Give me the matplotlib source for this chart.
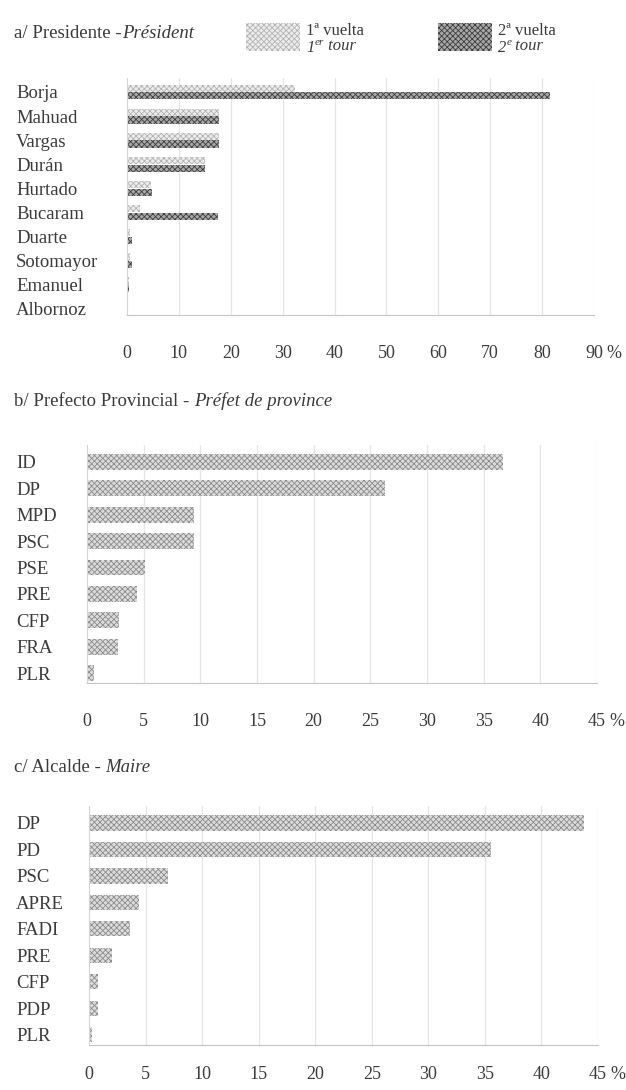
import matplotlib
matplotlib.use('Agg')
from matplotlib import pyplot as plt
from matplotlib.patches import Rectangle

# a/ presidente, 1a y 2a vuelta (%)
candidatos = ['Borja', 'Mahuad', 'Vargas', 'Durán', 'Hurtado', 'Bucaram',
              'Duarte', 'Sotomayor', 'Emanuel', 'Albornoz']
vuelta1 = [32.3, 17.7, 17.7, 15.0, 4.7, 2.6, 0.5, 0.5, 0.3, 0.0]
vuelta2 = [81.6, 17.7, 17.7, 15.0, 4.9, 17.5, 1.0, 1.0, 0.3, 0.0]
ticks_a = [0, 10, 20, 30, 40, 50, 60, 70, 80, 90]

# b/ prefecto provincial (%)
partidos_b = ['ID', 'DP', 'MPD', 'PSC', 'PSE', 'PRE', 'CFP', 'FRA', 'PLR']
votos_b = [36.7, 26.3, 9.4, 9.4, 5.1, 4.4, 2.8, 2.7, 0.6]

# c/ alcalde (%)
partidos_c = ['DP', 'PD', 'PSC', 'APRE', 'FADI', 'PRE', 'CFP', 'PDP', 'PLR']
votos_c = [43.8, 35.5, 7.0, 4.4, 3.6, 2.0, 0.8, 0.8, 0.3]
ticks_bc = [0, 5, 10, 15, 20, 25, 30, 35, 40, 45]

plt.rcParams['font.family'] = ['Liberation Serif', 'DejaVu Serif']
plt.rcParams['font.size'] = 13.5
plt.rcParams['hatch.linewidth'] = 0.6
TXT = '#3a3a3a'
# (face, hatch colour) -> dotted / checkered look of the scan
LIGHT = ('#ececec', '#b4b4b4')
DARK = ('#a8a8a8', '#3c3c3c')
MID = ('#dcdcdc', '#8c8c8c')

W, H = 626, 1090
fig = plt.figure(figsize=(W / 100, H / 100), dpi=100)


def px_axes(left, right, top, bottom):
    return fig.add_axes([left / W, 1 - bottom / H, (right - left) / W, (bottom - top) / H])


def bars(ax, y, vals, h, col):
    ax.barh(y, vals, height=h, color=col[0], edgecolor=col[1], hatch='xxxxxx',
            linewidth=0, zorder=2)


def style(ax, ticks, names, left_px, ylim, tick_pad_px):
    ax.set_xlim(ticks[0], ticks[-1])
    ax.set_ylim(*ylim)
    ax.set_yticks(range(len(names)))
    ax.set_yticklabels(names, color=TXT)
    for lab in ax.get_yticklabels():
        lab.set_horizontalalignment('left')
    ax.tick_params(axis='y', length=0, pad=(left_px - 16) * 0.72)
    ax.set_xticks(ticks)
    ax.set_xticklabels([str(t) for t in ticks], color=TXT, fontsize=13)
    ax.tick_params(axis='x', length=0, pad=tick_pad_px * 0.72)
    # "%" after the last tick
    ax.annotate('%', xy=(ticks[-1], 0), xycoords=('data', 'axes fraction'),
                xytext=(9, -tick_pad_px * 0.72), textcoords='offset points',
                ha='left', va='top', color=TXT, fontsize=13)
    for t in ticks[1:]:
        ax.axvline(t, color='#e6e6e6', lw=0.9, zorder=0)
    for s in ['top', 'right']:
        ax.spines[s].set_visible(False)
    ax.spines['left'].set_color('#d4d4d4')
    ax.spines['bottom'].set_color('#c4c4c4')
    ax.spines['left'].set_linewidth(0.8)
    ax.spines['bottom'].set_linewidth(0.8)
    ax.patch.set_alpha(0)


# panel a
ax_a = px_axes(127, 594, 78, 315)
pos = list(range(len(candidatos)))
bars(ax_a, [p - 0.16 for p in pos], vuelta1, 0.3, LIGHT)
bars(ax_a, [p + 0.16 for p in pos], vuelta2, 0.3, DARK)
style(ax_a, ticks_a, candidatos, 127, (9.25, -0.58), 30)

# panel b
ax_b = px_axes(87, 597, 445, 683)
bars(ax_b, range(len(partidos_b)), votos_b, 0.6, MID)
style(ax_b, ticks_bc, partidos_b, 87, (8.37, -0.64), 30)

# panel c
ax_c = px_axes(89, 598, 806, 1045)
bars(ax_c, range(len(partidos_c)), votos_c, 0.57, MID)
style(ax_c, ticks_bc, partidos_c, 89, (8.38, -0.64), 21)

# titles and legend on an overlay in pixel units
ov = fig.add_axes([0, 0, 1, 1])
ov.set_xlim(0, W)
ov.set_ylim(H, 0)
ov.axis('off')
ov.patch.set_alpha(0)


def title(y, plain, ital):
    t = ov.text(14, y, plain, va='center', ha='left', color=TXT)
    ov.annotate(ital, xy=(1, 0), xycoords=t, va='bottom', ha='left',
                style='italic', color=TXT)


title(34, 'a/ Presidente -', 'Président')
title(402, 'b/ Prefecto Provincial - ', 'Préfet de province')
title(768, 'c/ Alcalde - ', 'Maire')


def legend_item(x, col, num, sup):
    ov.add_patch(Rectangle((x, 23), 54, 28, facecolor=col[0], edgecolor=col[1],
                           hatch='xxxxxx', linewidth=0))
    ov.text(x + 60, 31, num + 'ª vuelta', va='center', ha='left',
            fontsize=12, color=TXT)
    t = ov.text(x + 60, 48, num, va='center', ha='left', fontsize=12,
                style='italic', color=TXT)
    s = ov.annotate(sup, xy=(1, 0.55), xycoords=t, va='bottom', ha='left',
                    fontsize=8, style='italic', color=TXT)
    ov.annotate(' tour', xy=(1, 0), xycoords=s, xytext=(0, -4.8),
                textcoords='offset points', va='bottom', ha='left',
                fontsize=12, style='italic', color=TXT)


legend_item(246, LIGHT, '1', 'er')
legend_item(438, DARK, '2', 'e')

plt.savefig('out.png', dpi=100)
